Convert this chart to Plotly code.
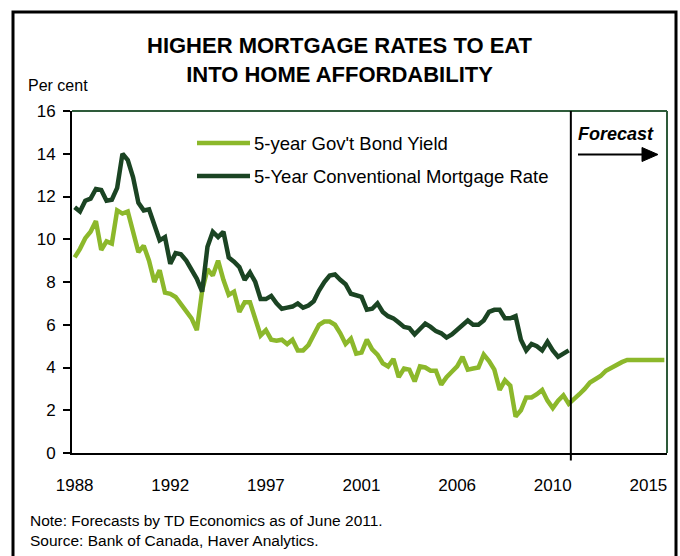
import plotly.graph_objects as go

# Quarterly periods, 1988Q1 to 2015Q4
years = list(range(1988, 2016))
quarters = [f"{y}Q{q}" for y in years for q in range(1, 5)]

# 5-year conventional mortgage rate, 1988Q1-2011Q2 (per cent)
mortgage_rate = [
    11.5, 11.3, 11.8, 11.9, 12.35, 12.3, 11.8, 11.85, 12.4, 14.0,
    13.7, 12.9, 11.7, 11.35, 11.4, 10.6, 9.95, 10.1, 8.85, 9.35,
    9.3, 9.0, 8.6, 8.15, 7.55, 9.65, 10.35, 10.1, 10.35, 9.15,
    8.95, 8.7, 8.1, 8.45, 8.0, 7.2, 7.2, 7.35, 7.0, 6.75,
    6.8, 6.85, 7.0, 6.8, 6.9, 7.1, 7.6, 8.0, 8.3, 8.35,
    8.1, 7.9, 7.45, 7.4, 7.3, 6.7, 6.75, 7.0, 6.6, 6.4,
    6.3, 6.1, 5.9, 5.85, 5.55, 5.8, 6.05, 5.9, 5.7, 5.6,
    5.4, 5.55, 5.75, 6.0, 6.2, 6.0, 6.0, 6.2, 6.6, 6.7,
    6.7, 6.3, 6.3, 6.4, 5.3, 4.8, 5.1, 5.0, 4.8, 5.2,
    4.8, 4.5, 4.65, 4.8,
]

# 5-year Government of Canada bond yield, 1988Q1-2011Q2 (per cent)
bond_actual = [
    9.15, 9.55, 10.05, 10.35, 10.85, 9.5, 9.9, 9.8, 11.35, 11.2,
    11.3, 10.35, 9.4, 9.7, 9.0, 8.0, 8.55, 7.5, 7.45, 7.3,
    6.95, 6.6, 6.3, 5.75, 7.6, 8.6, 8.3, 9.0, 8.1, 7.4,
    7.55, 6.6, 7.05, 7.05, 6.3, 5.5, 5.75, 5.3, 5.25, 5.3,
    5.1, 5.3, 4.8, 4.8, 5.05, 5.55, 6.0, 6.15, 6.15, 6.0,
    5.6, 5.1, 5.35, 4.65, 4.7, 5.3, 4.85, 4.6, 4.2, 4.05,
    4.4, 3.55, 3.95, 3.9, 3.35, 4.05, 4.0, 3.85, 3.85, 3.2,
    3.55, 3.8, 4.05, 4.5, 3.9, 3.95, 4.0, 4.6, 4.3, 3.9,
    2.95, 3.4, 3.15, 1.7, 2.0, 2.6, 2.6, 2.75, 2.95, 2.45,
    2.1, 2.45, 2.7, 2.3,
]

# TD Economics bond yield forecast, 2011Q3-2015Q4 (per cent)
bond_forecast = [
    2.5, 2.75, 3.0, 3.3, 3.45, 3.6, 3.85, 4.0, 4.15, 4.25,
    4.35, 4.35, 4.35, 4.35, 4.35, 4.35, 4.35, 4.35,
]

bond_yield = bond_actual + bond_forecast

series_names = ["5-year Gov't Bond Yield", "5-Year Conventional Mortgage Rate"]
series_colors = ["#8CB82B", "#1B4423"]

# year labels, one every 18 quarters from the first period
tick_years = ["1988", "1992", "1997", "2001", "2006", "2010", "2015"]
tick_index = [i * 18 for i in range(len(tick_years))]

title_text = "HIGHER MORTGAGE RATES TO EAT<br>INTO HOME AFFORDABILITY"
note_text = "Note: Forecasts by TD Economics as of June 2011."
source_text = "Source: Bank of Canada, Haver Analytics."
last_actual = len(bond_actual) - 1

x_idx = list(range(len(quarters)))

fig = go.Figure()
fig.add_trace(go.Scatter(
    x=x_idx[:len(bond_yield)], y=bond_yield, mode="lines", name=series_names[0],
    line=dict(color=series_colors[0], width=4.5), showlegend=False,
    customdata=quarters, hovertemplate="%{customdata}: %{y}<extra></extra>",
))
fig.add_trace(go.Scatter(
    x=x_idx[:len(mortgage_rate)], y=mortgage_rate, mode="lines", name=series_names[1],
    line=dict(color=series_colors[1], width=4.5), showlegend=False,
    customdata=quarters, hovertemplate="%{customdata}: %{y}<extra></extra>",
))

# plot-area geometry in pixels, used to place paper-referenced decorations
L, R, T, B = 72, 13, 111, 103
W, H = 680, 556
PW, PH = W - L - R, H - T - B


def px(p):
    return (p - L) / PW


def py(p):
    return (H - B - p) / PH


shapes = []
# top and right plot border
shapes.append(dict(type="line", xref="paper", yref="paper", x0=0, x1=1, y0=1, y1=1,
                   line=dict(color="#2E5B3A", width=2)))
shapes.append(dict(type="line", xref="paper", yref="paper", x0=1, x1=1, y0=0, y1=1,
                   line=dict(color="#2E5B3A", width=2)))
# forecast divider
shapes.append(dict(type="line", xref="x", yref="paper", x0=last_actual + 0.4, x1=last_actual + 0.4,
                   y0=-0.022, y1=1, line=dict(color="black", width=2)))
# outer frame (open at the bottom)
shapes.append(dict(type="path", xref="paper", yref="paper",
                   path=f"M {px(13)} {py(575)} L {px(13)} {py(12)} L {px(676)} {py(12)} L {px(676)} {py(575)}",
                   line=dict(color="black", width=3)))
# legend swatches
for k, yy in enumerate([143, 176]):
    shapes.append(dict(type="line", xref="paper", yref="paper", x0=px(197), x1=px(250),
                       y0=py(yy), y1=py(yy), line=dict(color=series_colors[k], width=4.5)))
# forecast arrow
shapes.append(dict(type="path", xref="paper", yref="paper",
                   path=f"M {px(642)} {py(147.5)} L {px(658)} {py(154.5)} L {px(642)} {py(161.5)} Z",
                   fillcolor="black", line=dict(color="black", width=1)))
shapes.append(dict(type="line", xref="paper", yref="paper", x0=px(578), x1=px(644),
                   y0=py(154.5), y1=py(154.5), line=dict(color="black", width=2)))

FONT = "Liberation Sans, Arial"

annotations = [
    dict(text=title_text, xref="paper", yref="paper", x=px(340), y=py(60),
         xanchor="center", yanchor="middle", showarrow=False,
         font=dict(family=FONT, size=22, color="black", weight="bold")),
    dict(text="Per cent", xref="paper", yref="paper", x=px(26), y=py(86),
         xanchor="left", yanchor="middle", showarrow=False,
         font=dict(family=FONT, size=16, color="black")),
    dict(text="<b><i>Forecast</i></b>", xref="paper", yref="paper", x=px(616), y=py(134),
         xanchor="center", yanchor="middle", showarrow=False,
         font=dict(family=FONT, size=18, color="black")),
    dict(text=note_text, xref="paper", yref="paper", x=px(28), y=py(520),
         xanchor="left", yanchor="middle", showarrow=False,
         font=dict(family=FONT, size=15.5, color="black")),
    dict(text=source_text, xref="paper", yref="paper", x=px(28), y=py(540),
         xanchor="left", yanchor="middle", showarrow=False,
         font=dict(family=FONT, size=15.5, color="black")),
]
for k, yy in enumerate([143, 176]):
    annotations.append(dict(text=series_names[k], xref="paper", yref="paper", x=px(252), y=py(yy),
                            xanchor="left", yanchor="middle", showarrow=False,
                            font=dict(family=FONT, size=18.5, color="black")))

fig.update_layout(
    width=W, height=H,
    margin=dict(l=L, r=R, t=T, b=B),
    paper_bgcolor="white", plot_bgcolor="white",
    showlegend=False,
    shapes=shapes, annotations=annotations,
    xaxis=dict(
        range=[-0.5, len(quarters) - 0.5], tickmode="array",
        tickvals=tick_index, ticktext=tick_years, ticks="",
        showline=True, linecolor="black", linewidth=2, showgrid=False, zeroline=False,
        ticklabelstandoff=16,
        tickfont=dict(family=FONT, size=17, color="black"),
    ),
    yaxis=dict(
        range=[0, 16], dtick=2, ticks="outside", ticklen=7, tickwidth=2, tickcolor="black",
        showline=True, linecolor="black", linewidth=2, showgrid=False, zeroline=False,
        ticklabelstandoff=4,
        tickfont=dict(family=FONT, size=17, color="black"),
    ),
)

fig.write_html("out.html")
